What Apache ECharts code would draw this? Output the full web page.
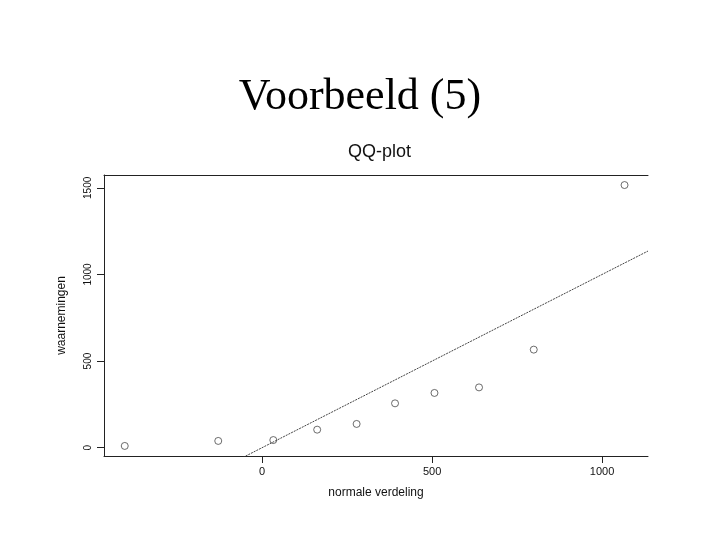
<!DOCTYPE html>
<html>
<head>
<meta charset="utf-8">
<script src="https://cdn.jsdelivr.net/npm/echarts@6/dist/echarts.min.js"></script>
<style>html,body{margin:0;padding:0;background:#fff;}#c{width:720px;height:540px;}</style>
</head>
<body>
<div id="c"></div>
<script>
// Data
var theoretical = [-404, -129, 33, 162, 278, 391, 507, 638, 799, 1066];   // normale verdeling
var observed    = [10, 39, 44, 104, 137, 256, 316, 348, 566, 1516];      // waarnemingen
var refLineX = [-465, 1135];          // reference line y = x
var xTicks = [0, 500, 1000];
var yTicks = [0, 500, 1000, 1500];

var pts = theoretical.map(function (x, i) { return [x, observed[i]]; });
var ref = refLineX.map(function (x) { return [x, x]; });
function plain(v) { return String(v); }

var chart = echarts.init(document.getElementById('c'), null, {renderer: 'canvas'});
chart.setOption({
  animation: false,
  backgroundColor: '#fff',
  title: [
    {text: 'Voorbeeld (5)', left: 'center', top: 70,
     textStyle: {fontFamily: 'Liberation Serif', fontSize: 44, fontWeight: 'normal', color: '#000'}},
    {text: 'QQ-plot', left: 343, top: 138,
     textStyle: {fontFamily: 'Liberation Sans', fontSize: 18, fontWeight: 'normal', color: '#111'}}
  ],
  grid: {left: 104, right: 72, top: 175, bottom: 84, containLabel: false},
  xAxis: [{
    type: 'value', min: -465, max: 1135, position: 'bottom',
    name: 'normale verdeling', nameLocation: 'middle', nameGap: 31,
    nameTextStyle: {fontFamily: 'Liberation Sans', fontSize: 12, color: '#111'},
    axisLine: {show: true, onZero: false, lineStyle: {color: '#222', width: 1}},
    axisTick: {show: true, customValues: xTicks, length: 7, lineStyle: {color: '#222'}},
    axisLabel: {show: true, customValues: xTicks, formatter: plain, margin: 10, fontFamily: 'Liberation Sans', fontSize: 11, color: '#111'},
    splitLine: {show: false}
  }, {
    type: 'value', min: -465, max: 1135, position: 'top',
    axisLine: {show: true, onZero: false, lineStyle: {color: '#222', width: 1}},
    axisTick: {show: false}, axisLabel: {show: false}, splitLine: {show: false}
  }],
  yAxis: {
    type: 'value', min: -48, max: 1574,
    name: 'waarnemingen', nameLocation: 'middle', nameGap: 36, nameRotate: 90,
    nameTextStyle: {fontFamily: 'Liberation Sans', fontSize: 12, color: '#111'},
    axisLine: {show: true, onZero: false, lineStyle: {color: '#222', width: 1}},
    axisTick: {show: true, customValues: yTicks, length: 7, lineStyle: {color: '#222'}},
    axisLabel: {show: true, customValues: yTicks, formatter: plain, rotate: 90, margin: 11, fontFamily: 'Liberation Sans', fontSize: 10, color: '#111'},
    splitLine: {show: false}
  },
  series: [{
    type: 'line', data: ref, xAxisIndex: 0, symbol: 'none', clip: true,
    lineStyle: {color: '#444', width: 1, type: [2, 1]}, silent: true
  }, {
    type: 'scatter', data: pts, xAxisIndex: 0, symbol: 'circle', symbolSize: 7,
    itemStyle: {color: 'rgba(0,0,0,0)', borderColor: '#333', borderWidth: 0.9}
  }]
});
</script>
</body>
</html>
